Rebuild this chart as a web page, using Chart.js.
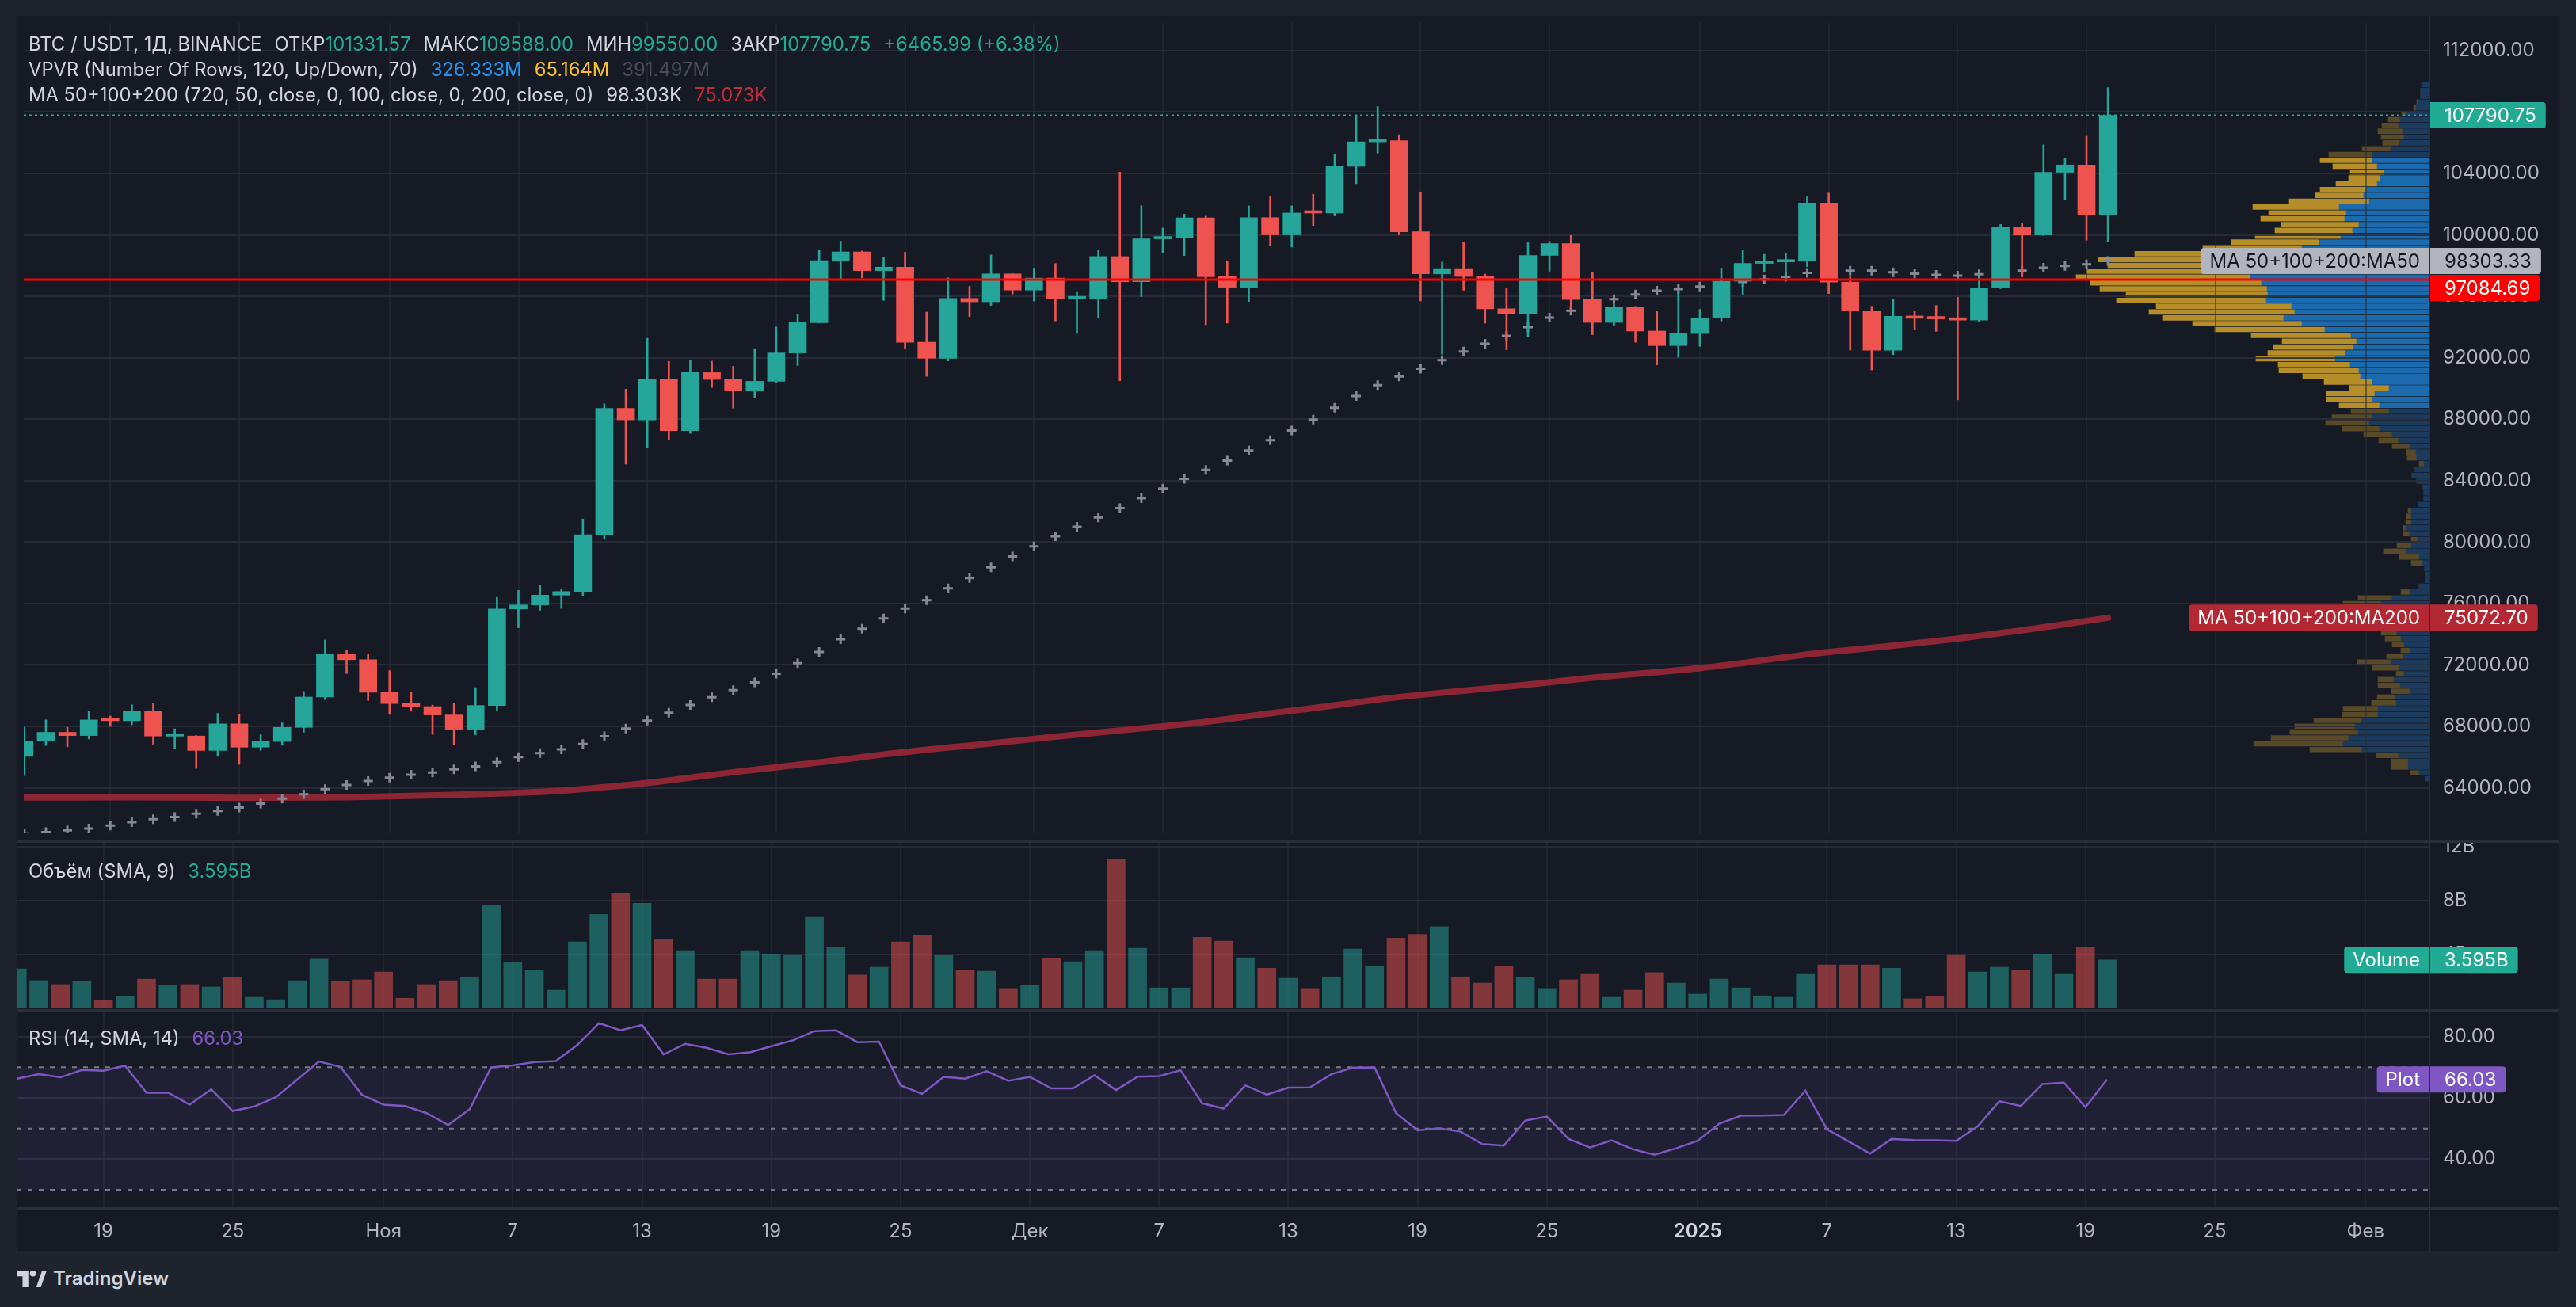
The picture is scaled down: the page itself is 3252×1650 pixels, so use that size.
<!DOCTYPE html>
<html lang="ru">
<head>
<meta charset="utf-8">
<title>BTC / USDT, 1Д, BINANCE</title>
<script src="https://cdn.jsdelivr.net/npm/chart.js@4.4.1/dist/chart.umd.min.js"></script>
<style>
  html, body { margin: 0; padding: 0; }
  body { width: 3252px; height: 1650px; background: #1f232e; position: relative; overflow: hidden;
         font-family: Inter, "Noto Sans", sans-serif; }
  #frame { position: absolute; left: 21px; top: 20px; width: 3210px; height: 1559px; background: #161a25; }
  canvas { position: absolute; }
  .sep { position: absolute; background: #2a2e39; }
  .lg { position: absolute; left: 36px; height: 32px; line-height: 32px; font-size: 23.8px; color: #d1d4dc; white-space: pre; }
  .gap { margin-left: 16px; }
  .up { color: #22ab94; }
</style>
</head>
<body>
<div id="frame"></div>
<canvas id="vp" width="470" height="1041" style="left:2596px;top:20px;width:470px;height:1041px"></canvas>
<canvas id="main" width="3210" height="1041" style="left:21px;top:20px;width:3210px;height:1041px"></canvas>
<canvas id="vol" width="3210" height="209" style="left:21px;top:1064px;width:3210px;height:209px"></canvas>
<canvas id="rsi" width="3210" height="302" style="left:21px;top:1277px;width:3210px;height:302px"></canvas>
<div class="sep" style="left:21px;top:1061px;width:3210px;height:3px"></div>
<div class="sep" style="left:21px;top:1274px;width:3210px;height:3px"></div>
<div class="sep" style="left:21px;top:1524px;width:3210px;height:3px"></div>
<div class="sep" style="left:3066px;top:20px;width:2px;height:1559px"></div>

<div class="lg" id="lg1" style="top:40px"></div>
<div class="lg" id="lg2" style="top:72px"></div>
<div class="lg" id="lg3" style="top:104px"></div>
<div class="lg" id="lgVol" style="top:1084px"></div>
<div class="lg" id="lgRsi" style="top:1295px"></div>

<svg style="position:absolute;left:21px;top:1604px" width="38" height="21" viewBox="0 0 36 20">
  <path d="M0 0h14v20H7V7H0z" fill="#d1d4dc"/>
  <circle cx="19.5" cy="3.6" r="3.6" fill="#d1d4dc"/>
  <path d="M23.5 20l7-20h5.5l-7 20z" fill="#d1d4dc"/>
</svg>
<div style="position:absolute;left:67px;top:1598px;font-size:24px;font-weight:600;color:#d1d4dc;line-height:32px">TradingView</div>

<script>
// daily candles, 15 Oct 2024 .. 20 Jan 2025 (index 0 = 15 Oct)
var opens = [66046, 67041, 67612, 67399, 68418, 68362, 69001, 67360, 67368, 66432,
  68161, 66642, 67014, 67929, 69907, 72720, 72339, 70216, 69482, 69289,
  68741, 67811, 69359, 75640, 75905, 76545, 76778, 80471, 88705, 87955,
  90587, 87250, 91032, 90587, 89855, 90465, 92310, 94286, 98317, 98892,
  97672, 97900, 93010, 91966, 95864, 95643, 97460, 96407, 97185, 95840,
  95849, 98587, 96945, 99740, 99831, 101109, 97276, 96593, 101125, 100000,
  101424, 101420, 104463, 106058, 106133, 100204, 97461, 97805, 97292, 95187,
  94881, 98663, 99430, 95792, 94299, 95300, 93738, 92792, 93576, 94592,
  96984, 98142, 98236, 98315, 102078, 96922, 95043, 92484, 94701, 94566,
  94560, 94450, 96534, 100505, 99988, 104078, 104556, 101331.57];
var highs = [67950, 68424, 67939, 68969, 68668, 69400, 69500, 67836, 67400, 68850,
  68778, 67454, 68221, 70270, 73620, 72961, 72700, 71632, 70255, 69388,
  69480, 70522, 76400, 76850, 77199, 76927, 81500, 89000, 89956, 93265,
  91765, 91850, 91779, 91449, 92594, 94002, 94831, 98984, 99588, 98950,
  98564, 98871, 94973, 97208, 96650, 98693, 97463, 97836, 98130, 96305,
  99000, 104088, 101898, 100439, 101350, 101215, 98270, 101888, 102540, 101895,
  102650, 105250, 107793, 108353, 106524, 102800, 98233, 99540, 97448, 96538,
  99487, 99569, 99963, 97544, 95500, 95340, 95024, 96300, 95152, 97839,
  98976, 98734, 98813, 102482, 102724, 97258, 95349, 95837, 95050, 95400,
  95940, 97371, 100681, 100781, 105865, 104988, 106422, 109588];
var lows = [64800, 66750, 66666, 67177, 67998, 68100, 66835, 66571, 65260, 66048,
  65521, 66435, 66762, 67618, 69730, 71436, 69685, 68779, 69043, 67478,
  66800, 67459, 69058, 74415, 75555, 75677, 76492, 80216, 85072, 86127,
  86668, 87073, 90056, 88722, 89376, 90406, 91500, 94266, 97122, 97200,
  95734, 92600, 90791, 91792, 94677, 95407, 96150, 95693, 94395, 93578,
  94587, 90500, 95981, 98844, 98657, 94150, 94256, 95658, 99311, 99205,
  100610, 101234, 103333, 105321, 100000, 95700, 92232, 96398, 94250, 92520,
  93390, 97632, 95200, 93500, 94118, 93009, 91530, 92033, 92743, 94392,
  96100, 97562, 97250, 97926, 96181, 92500, 91203, 92206, 93831, 93712,
  89256, 94346, 96500, 97256, 99950, 102278, 99651, 99550];
var closes = [67041, 67612, 67399, 68418, 68362, 69001, 67367, 67368, 66432, 68161,
  66642, 67014, 67929, 69907, 72720, 72339, 70215, 69482, 69289, 68741,
  67811, 69359, 75639, 75904, 76545, 76778, 80474, 88701, 87955, 90585,
  87250, 91031, 90586, 89855, 90464, 92310, 94286, 98317, 98892, 97672,
  97900, 93010, 91965, 95863, 95643, 97460, 96407, 97185, 95840, 95849,
  98587, 96945, 99740, 99831, 101109, 97276, 96593, 101125, 100000, 101424,
  101420, 104463, 106058, 106133, 100204, 97461, 97805, 97291, 95187, 94881,
  98663, 99430, 95792, 94299, 95300, 93738, 92792, 93576, 94591, 96984,
  98142, 98236, 98315, 102078, 96922, 95043, 92484, 94701, 94566, 94530,
  94450, 96534, 100504, 99988, 104078, 104556, 101324.76, 107790.75];
// volume, billions
var volumes = [2.94, 2.06, 1.77, 1.99, 0.60, 0.88, 2.17, 1.70, 1.77, 1.59,
  2.34, 0.82, 0.64, 2.06, 3.65, 1.99, 2.12, 2.70, 0.75, 1.77,
  2.06, 2.34, 7.69, 3.40, 2.81, 1.35, 4.93, 6.98, 8.57, 7.80,
  5.10, 4.29, 2.17, 2.17, 4.29, 4.04, 4.00, 6.76, 4.57, 2.48,
  3.05, 4.93, 5.39, 3.93, 2.81, 2.76, 1.48, 1.70, 3.69, 3.47,
  4.29, 11.05, 4.46, 1.52, 1.52, 5.28, 4.99, 3.76, 2.98, 2.23,
  1.48, 2.34, 4.40, 3.16, 5.22, 5.50, 6.06, 2.34, 1.88, 3.12,
  2.34, 1.48, 2.12, 2.59, 0.82, 1.35, 2.65, 1.88, 1.06, 2.17,
  1.52, 0.93, 0.82, 2.59, 3.23, 3.23, 3.23, 2.98, 0.71, 0.88,
  4.00, 2.70, 3.05, 2.81, 4.04, 2.59, 4.53, 3.595];
var ma50 = [61025, 61111, 61229, 61347, 61533, 61753, 61956, 62091, 62311, 62497,
  62716, 62970, 63290, 63570, 63910, 64175, 64435, 64658, 64850, 64994,
  65195, 65390, 65670, 66000, 66263, 66500, 66850, 67348, 67857, 68378,
  68888, 69387, 69897, 70360, 70858, 71426, 72110, 72842, 73667, 74358,
  75027, 75674, 76209, 76980, 77654, 78358, 79057, 79721, 80376, 80990,
  81598, 82211, 82853, 83481, 84114, 84694, 85296, 85957, 86625, 87257,
  87970, 88740, 89500, 90220, 90780, 91290, 91846, 92413, 92911, 93420,
  93996, 94612, 95060, 95444, 95808, 96116, 96366, 96470, 96632, 96760,
  96929, 97098, 97267, 97520, 97605, 97672, 97672, 97571, 97470, 97402,
  97351, 97436, 97571, 97672, 97858, 97976, 98078, 98303.33];
var ma200Days = [0, 5, 10, 15, 20, 25, 28, 30, 33, 35, 38, 40, 43, 45, 48, 50, 53, 55,
  58, 60, 63, 65, 68, 70, 73, 75, 78, 80, 83, 85, 88, 90, 93, 95, 97];
var ma200Vals = [63363, 63385, 63341, 63385, 63540, 63808, 64165, 64478, 65013, 65325,
  65816, 66173, 66619, 66886, 67332, 67600, 68002, 68292, 68849, 69184,
  69741, 70054, 70455, 70723, 71169, 71414, 71793, 72128, 72686, 72976,
  73399, 73712, 74247, 74649, 75072.70];
var rsi = [66.26, 67.73, 66.70, 69.11, 68.86, 70.50, 61.68, 61.77, 57.80, 62.81,
  55.72, 57.19, 60.22, 66.00, 71.88, 70.15, 61.00, 57.80, 57.36, 55.03,
  51.14, 56.33, 69.98, 70.58, 71.71, 72.05, 77.32, 84.41, 82.07, 83.80,
  74.21, 77.67, 76.37, 74.21, 74.90, 76.89, 78.79, 81.81, 82.07, 78.19,
  78.36, 64.10, 61.34, 66.87, 66.26, 68.68, 65.57, 66.87, 63.07, 63.07,
  67.39, 62.55, 66.95, 67.13, 69.03, 58.23, 56.50, 64.10, 61.08, 63.33,
  63.41, 67.73, 69.89, 69.98, 55.03, 49.42, 50.11, 48.98, 44.92, 44.41,
  52.61, 53.91, 46.65, 43.80, 46.13, 43.20, 41.47, 43.54, 45.96, 51.58,
  54.17, 54.25, 54.43, 62.38, 49.76, 45.79, 41.81, 46.57, 46.22, 46.13,
  45.96, 50.71, 58.92, 57.36, 64.54, 64.97, 56.93, 66.03];
var levelPrice = 97084.69;

// visible-range volume profile, rows from the top (109588) to the bottom (64800)
var vpHigh = 109588, vpLow = 64800;
var vpUp = [8, 10, 10, 13, 16, 28, 36, 38, 33, 31,
  37, 48, 71, 71, 65, 56, 61, 65, 79, 82,
  75, 113, 104, 106, 88, 96, 111, 138, 160, 190,
  215, 215, 236, 225, 211, 204, 203, 205, 173, 169,
  183, 160, 131, 98, 91, 95, 105, 118, 99, 88,
  86, 71, 50, 68, 71, 62, 50, 72, 75, 62,
  46, 38, 24, 16, 15, 6, 17, 21, 15, 7,
  6, 6, 13, 22, 22, 22, 29, 24, 14, 22,
  29, 12, 8, 5, 4, 4, 12, 24, 46, 60,
  58, 55, 50, 45, 40, 35, 31, 24, 32, 48,
  37, 31, 44, 36, 24, 42, 41, 64, 64, 85,
  93, 89, 101, 108, 84, 38, 26, 26, 12, 4];
var vpDown = [0, 0, 0, 2, 3, 6, 15, 21, 31, 29,
  21, 36, 55, 66, 56, 43, 40, 52, 58, 61,
  101, 109, 98, 106, 98, 98, 108, 111, 125, 181,
  202, 190, 196, 220, 216, 211, 179, 189, 171, 184,
  153, 138, 139, 126, 94, 101, 98, 100, 91, 101,
  73, 61, 50, 61, 58, 51, 48, 50, 55, 47,
  36, 25, 22, 12, 12, 6, 0, 0, 0, 0,
  0, 0, 0, 4, 6, 7, 3, 8, 8, 18,
  28, 25, 14, 0, 0, 0, 0, 11, 43, 48,
  48, 45, 40, 30, 20, 20, 15, 11, 21, 42,
  34, 10, 20, 28, 23, 23, 31, 44, 45, 60,
  76, 86, 98, 113, 66, 28, 21, 21, 11, 0];
var vpValueArea = [13, 55];   // first and last row of the 70% value area
var vpTotals = ['326.333M', '65.164M', '391.497M'];

var tickDays = [4, 10, 17, 23, 29, 35, 41, 47, 53, 59, 65, 71, 78, 84, 90, 96, 102, 109];
var tickLabels = ['19', '25', 'Ноя', '7', '13', '19', '25', 'Дек', '7', '13', '19', '25', '2025', '7', '13', '19', '25', 'Фев'];
var priceTicks = [64000, 68000, 72000, 76000, 80000, 84000, 88000, 92000, 96000, 100000, 104000, 108000, 112000];
var volTicks = [4, 8, 12];
var rsiTicks = [40, 60, 80];

// ---- look ----
var upCol = '#26a69a', dnCol = '#ef5350';
var textCol = '#b2b5be';
var gridH = 'rgba(42,46,57,0.85)', gridV = 'rgba(42,46,57,0.55)';
var FONT = 'Inter, "Noto Sans", sans-serif';
Chart.defaults.font.family = FONT;
Chart.defaults.color = textCol;

var last = closes.length - 1;
var idx = closes.map(function (c, i) { return i; });
var candleCol = closes.map(function (c, i) { return c >= opens[i] ? upCol : dnCol; });
var volCol = closes.map(function (c, i) { return c >= opens[i] ? 'rgba(38,166,154,0.5)' : 'rgba(239,83,80,0.5)'; });
var xMin = -0.03, xMax = 111.93;
var priceMin = 61035, priceMax = 113799;

function fixY(s) { s.width = 165; s.paddingTop = 0; s.paddingBottom = 0; }
function xAxis(h, showTicks) {
  return {
    type: 'linear', min: xMin, max: xMax, offset: false,
    afterBuildTicks: function (s) { s.ticks = tickDays.map(function (v) { return { value: v }; }); },
    afterFit: function (s) { s.height = h; s.paddingLeft = 0; s.paddingRight = 0; },
    grid: { color: gridV, lineWidth: 2, drawTicks: false, offset: false },
    border: { display: false },
    ticks: {
      display: showTicks, padding: 15, maxRotation: 0, autoSkip: false,
      callback: function (v, i) { return tickLabels[i]; },
      color: function (c) { return tickLabels[c.index] === '2025' ? '#d1d4dc' : textCol; },
      font: function (c) { return { size: 24, weight: tickLabels[c.index] === '2025' ? '600' : '400' }; }
    }
  };
}
function yAxis(min, max, list, fmt) {
  return {
    position: 'right', min: min, max: max,
    afterBuildTicks: function (s) { s.ticks = list.map(function (v) { return { value: v }; }); },
    afterFit: fixY,
    grid: { color: gridH, lineWidth: 2, drawTicks: false },
    border: { display: false },
    ticks: { padding: 18, color: textCol, font: { size: 24 }, callback: fmt }
  };
}
var base = {
  responsive: false, maintainAspectRatio: false, animation: false, events: [],
  layout: { padding: 0 },
  plugins: { legend: { display: false }, tooltip: { enabled: false } }
};
function opts(extra) { return Object.assign({}, base, extra); }

function tag(ctx, area, y, txt, bg, fg, h) {
  ctx.font = '24px ' + FONT;
  var w = ctx.measureText(txt).width + 30;
  ctx.fillStyle = bg;
  ctx.beginPath(); ctx.roundRect(area.right + 2, y - h / 2, w, h, [0, 4, 4, 0]); ctx.fill();
  ctx.fillStyle = fg; ctx.textBaseline = 'middle'; ctx.textAlign = 'left';
  ctx.fillText(txt, area.right + 20, y + 1);
}
function nameTag(ctx, area, y, txt, bg, fg, h) {
  ctx.font = '24px ' + FONT;
  var w = ctx.measureText(txt).width + 22;
  ctx.fillStyle = bg;
  ctx.beginPath(); ctx.roundRect(area.right - w, y - h / 2, w, h, [4, 0, 0, 4]); ctx.fill();
  ctx.fillStyle = fg; ctx.textBaseline = 'middle'; ctx.textAlign = 'left';
  ctx.fillText(txt, area.right - w + 11, y + 1);
}

// ---- volume profile (drawn under the price chart) ----
var vpStep = (vpHigh - vpLow) / vpUp.length;
var vpMid = vpUp.map(function (v, m) { return vpHigh - (m + 0.5) * vpStep; });
function inVA(m) { return m >= vpValueArea[0] && m <= vpValueArea[1]; }
new Chart(document.getElementById('vp'), {
  type: 'bar',
  data: { datasets: [
    { data: vpUp.map(function (v, m) { return { x: v, y: vpMid[m] }; }),
      backgroundColor: vpUp.map(function (v, m) { return inVA(m) ? '#1b6aad' : '#1c3a5b'; }),
      barThickness: 6, stack: 'vp' },
    { data: vpDown.map(function (v, m) { return { x: v, y: vpMid[m] }; }),
      backgroundColor: vpDown.map(function (v, m) { return inVA(m) ? '#b58e29' : '#584a29'; }),
      barThickness: 6, stack: 'vp' }
  ] },
  options: opts({
    indexAxis: 'y',
    scales: {
      x: { type: 'linear', reverse: true, min: 0, max: 470, stacked: true, display: false, offset: false },
      y: { type: 'linear', min: priceMin, max: priceMax, stacked: true, display: false,
           offset: false, grid: { offset: false } }
    }
  })
});

// ---- price chart ----
var mainDecor = {
  id: 'mainDecor',
  afterDatasetsDraw: function (chart) {
    var ctx = chart.ctx, a = chart.chartArea, y = chart.scales.y;
    ctx.save();
    var py = y.getPixelForValue(closes[last]);
    ctx.strokeStyle = '#22ab94'; ctx.lineWidth = 2; ctx.setLineDash([3, 4]);
    ctx.beginPath(); ctx.moveTo(a.left, py); ctx.lineTo(a.right, py); ctx.stroke();
    ctx.setLineDash([]);
    py = y.getPixelForValue(levelPrice);
    ctx.strokeStyle = '#ff0000'; ctx.lineWidth = 3;
    ctx.beginPath(); ctx.moveTo(a.left, py); ctx.lineTo(a.right, py); ctx.stroke();
    ctx.restore();
  },
  afterDraw: function (chart) {
    var ctx = chart.ctx, a = chart.chartArea, y = chart.scales.y, h = 33;
    var tags = [
      { v: closes[last], bg: '#22ab94', fg: '#ffffff' },
      { v: ma50[last], bg: '#b2b5be', fg: '#131722', name: 'MA 50+100+200:MA50' },
      { v: levelPrice, bg: '#ff0000', fg: '#ffffff' },
      { v: ma200Vals[ma200Vals.length - 1], bg: '#b22833', fg: '#ffffff', name: 'MA 50+100+200:MA200' }
    ];
    tags.forEach(function (t) { t.y = y.getPixelForValue(t.v); });
    tags.sort(function (p, q) { return p.y - q.y; });
    var prevBottom = -1e9;
    ctx.save();
    tags.forEach(function (t) {
      if (t.y - h / 2 < prevBottom + 1) t.y = prevBottom + 1 + h / 2;
      prevBottom = t.y + h / 2;
      tag(ctx, a, t.y, t.v.toFixed(2), t.bg, t.fg, h);
      if (t.name) nameTag(ctx, a, t.y, t.name, t.bg, t.fg, h);
    });
    ctx.restore();
  }
};
new Chart(document.getElementById('main'), {
  type: 'bar',
  data: { datasets: [
    { data: idx.map(function (i) { return { x: i, y: [opens[i], closes[i]] }; }),
      backgroundColor: candleCol, barThickness: 22, minBarLength: 3, grouped: false, order: 0 },
    { data: idx.map(function (i) { return { x: i, y: [lows[i], highs[i]] }; }),
      backgroundColor: candleCol, barThickness: 2, grouped: false, order: 1 },
    { type: 'line', data: idx.map(function (i) { return { x: i, y: ma50[i] }; }),
      showLine: false, pointStyle: 'cross', pointRadius: 6, pointBorderWidth: 3,
      pointBorderColor: '#868993', order: 2 },
    { type: 'line', data: ma200Days.map(function (d, i) { return { x: d, y: ma200Vals[i] }; }),
      borderColor: '#8c2634', borderWidth: 8, pointRadius: 0, borderCapStyle: 'round',
      cubicInterpolationMode: 'monotone', order: 3 }
  ] },
  options: opts({
    scales: {
      x: xAxis(0, false),
      y: yAxis(priceMin, priceMax, priceTicks, function (v) { return v.toFixed(2); })
    }
  }),
  plugins: [mainDecor]
});

// ---- volume ----
var volDecor = {
  id: 'volDecor',
  afterDraw: function (chart) {
    var ctx = chart.ctx, a = chart.chartArea, py = chart.scales.y.getPixelForValue(volumes[last]);
    ctx.save();
    tag(ctx, a, py, volumes[last].toFixed(3) + 'B', '#22ab94', '#ffffff', 33);
    nameTag(ctx, a, py, 'Volume', '#22ab94', '#ffffff', 33);
    ctx.restore();
  }
};
new Chart(document.getElementById('vol'), {
  type: 'bar',
  data: { datasets: [
    { data: idx.map(function (i) { return { x: i, y: volumes[i] }; }), backgroundColor: volCol, barThickness: 23 }
  ] },
  options: opts({
    scales: {
      x: xAxis(0, false),
      y: yAxis(0, 12.29, volTicks, function (v) { return v + 'B'; })
    }
  }),
  plugins: [volDecor]
});

// ---- RSI ----
var rsiDecor = {
  id: 'rsiDecor',
  beforeDatasetsDraw: function (chart) {
    var ctx = chart.ctx, a = chart.chartArea, y = chart.scales.y;
    ctx.save();
    ctx.fillStyle = 'rgba(126,87,194,0.1)';
    ctx.fillRect(a.left, y.getPixelForValue(70), a.width, y.getPixelForValue(30) - y.getPixelForValue(70));
    ctx.strokeStyle = '#787b86'; ctx.lineWidth = 2; ctx.setLineDash([6, 8]);
    [70, 50, 30].forEach(function (v) {
      var py = y.getPixelForValue(v);
      ctx.beginPath(); ctx.moveTo(a.left, py); ctx.lineTo(a.right, py); ctx.stroke();
    });
    ctx.restore();
  },
  afterDraw: function (chart) {
    var ctx = chart.ctx, a = chart.chartArea, py = chart.scales.y.getPixelForValue(rsi[last]);
    ctx.save();
    tag(ctx, a, py, rsi[last].toFixed(2), '#7e57c2', '#ffffff', 33);
    nameTag(ctx, a, py, 'Plot', '#7e57c2', '#ffffff', 33);
    ctx.restore();
  }
};
new Chart(document.getElementById('rsi'), {
  type: 'line',
  data: { datasets: [
    { data: idx.map(function (i) { return { x: i, y: rsi[i] }; }), borderColor: '#7e57c2', borderWidth: 2.5, pointRadius: 0 }
  ] },
  options: opts({
    scales: {
      x: xAxis(54, true),
      y: yAxis(24.03, 88.2, rsiTicks, function (v) { return v.toFixed(2); })
    }
  }),
  plugins: [rsiDecor]
});

// ---- legends ----
function f2(v) { return v.toFixed(2); }
var chg = closes[last] - closes[last - 1];
var chgPct = chg / closes[last - 1] * 100;
document.getElementById('lg1').innerHTML =
  '<span>BTC / USDT, 1Д, BINANCE</span>' +
  '<span class="gap">ОТКР</span><span class="up">' + f2(opens[last]) + '</span>' +
  '<span class="gap">МАКС</span><span class="up">' + f2(highs[last]) + '</span>' +
  '<span class="gap">МИН</span><span class="up">' + f2(lows[last]) + '</span>' +
  '<span class="gap">ЗАКР</span><span class="up">' + f2(closes[last]) + '</span>' +
  '<span class="gap up">+' + f2(chg) + ' (+' + f2(chgPct) + '%)</span>';
document.getElementById('lg2').innerHTML =
  '<span>VPVR (Number Of Rows, 120, Up/Down, 70)</span>' +
  '<span class="gap" style="color:#2196f3">' + vpTotals[0] + '</span>' +
  '<span class="gap" style="color:#fbc02d">' + vpTotals[1] + '</span>' +
  '<span class="gap" style="color:#4a4d58">' + vpTotals[2] + '</span>';
document.getElementById('lg3').innerHTML =
  '<span>MA 50+100+200 (720, 50, close, 0, 100, close, 0, 200, close, 0)</span>' +
  '<span class="gap">' + (ma50[last] / 1000).toFixed(3) + 'K</span>' +
  '<span class="gap" style="color:#c22b3a">' + (ma200Vals[ma200Vals.length - 1] / 1000).toFixed(3) + 'K</span>';
document.getElementById('lgVol').innerHTML =
  '<span>Объём (SMA, 9)</span><span class="gap up">' + volumes[last].toFixed(3) + 'B</span>';
document.getElementById('lgRsi').innerHTML =
  '<span>RSI (14, SMA, 14)</span><span class="gap" style="color:#7e57c2">' + f2(rsi[last]) + '</span>';
</script>
</body>
</html>
